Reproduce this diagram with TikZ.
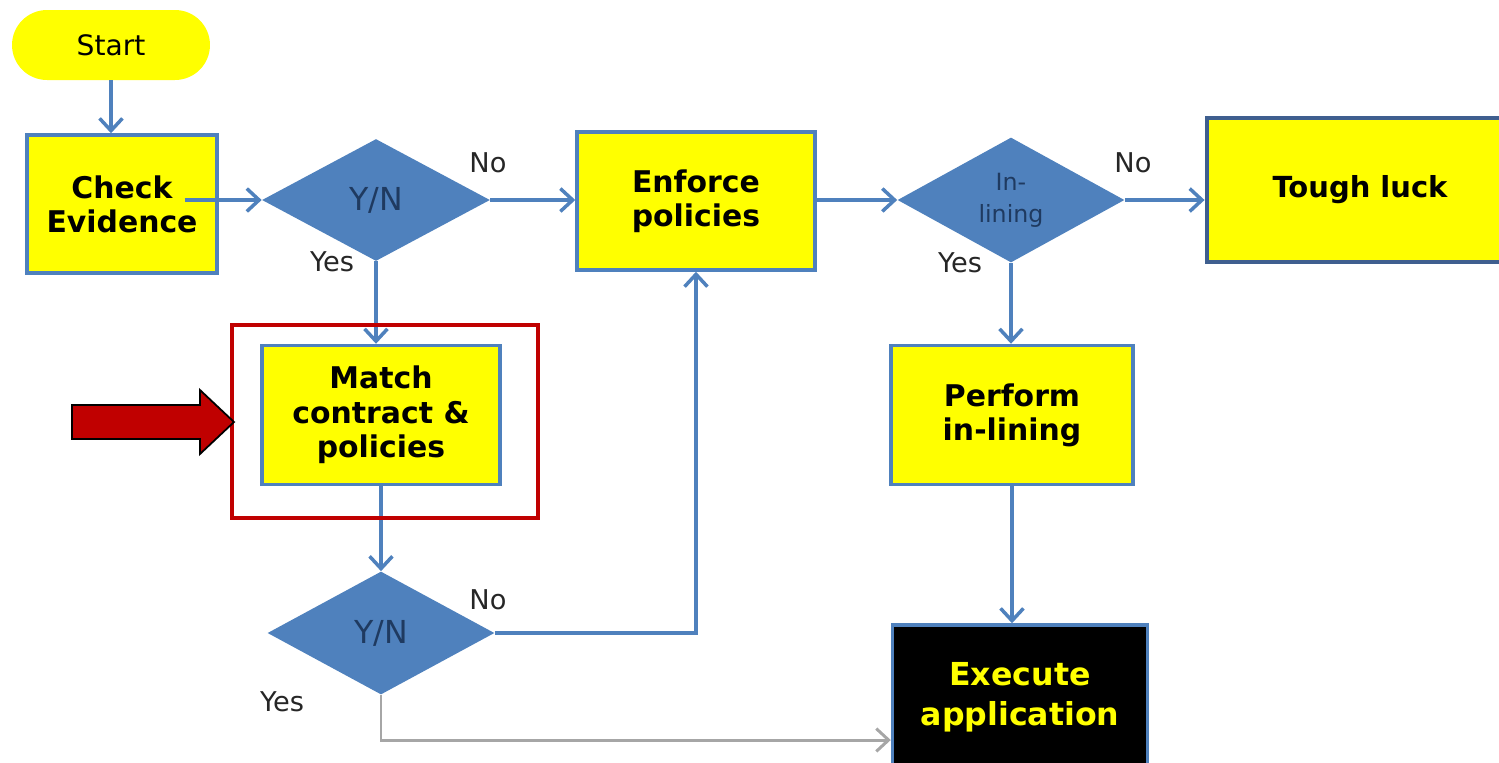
\documentclass[tikz,border=0pt]{standalone}
\usepackage{fontspec}
\setmainfont{DejaVu Sans}
\usetikzlibrary{shapes.geometric,arrows.meta}
\definecolor{fyellow}{HTML}{FFFF00}
\definecolor{fblue}{HTML}{4F81BD}
\definecolor{yntext}{HTML}{1F3A60}
\definecolor{fred}{HTML}{C00000}
\definecolor{fgray}{HTML}{A6A6A6}
\definecolor{tlborder}{HTML}{3F5F8F}
\begin{document}
\begin{tikzpicture}[x=0.02cm,y=-0.02cm,
  box/.style={draw=fblue, line width=2pt, fill=fyellow, align=center,
    font=\bfseries\fontsize{17}{19.5}\selectfont, inner sep=0pt},
  dec/.style={diamond, fill=fblue, inner sep=0pt, align=center, text=yntext},
  conn/.style={draw=fblue, line width=2pt,
    -{Straight Barb[length=7pt,width=13pt,line width=2pt]}},
  gconn/.style={draw=fgray, line width=1.7pt,
    -{Straight Barb[length=7pt,width=13pt,line width=1.7pt]}},
  lab/.style={font=\fontsize{15.5}{18}\selectfont, text=black!85}]
\useasboundingbox (0,0) rectangle (1499,762);

% nodes
\node[fill=fyellow, rounded corners=0.7cm, minimum width=3.96cm, minimum height=1.4cm,
  inner sep=0pt, font=\fontsize{16}{18}\selectfont] (start) at (111,45) {Start};
\node[box, minimum width=3.8cm, minimum height=2.76cm] (check) at (122,204) {Check\\Evidence};
\node[dec, minimum width=4.56cm, minimum height=2.44cm,
  font=\fontsize{18}{20}\selectfont] (d1) at (376,200) {Y/N};
\node[box, minimum width=4.76cm, minimum height=2.76cm] (enforce) at (696,201) {Enforce\\policies};
\node[dec, minimum width=4.54cm, minimum height=2.5cm,
  font=\fontsize{13.5}{18}\selectfont] (d2) at (1011,200) {In-\\lining};
\node[fill=fyellow, draw=tlborder, line width=2.8pt, minimum width=6.12cm, minimum height=2.88cm,
  inner sep=0pt, font=\bfseries\fontsize{16.5}{19}\selectfont] (tough) at (1360,190) {\raisebox{2pt}{Tough luck}};
\node[box, minimum width=4.76cm, minimum height=2.78cm] (match) at (381,415) {Match\\contract \&\\policies};
\node[dec, minimum width=4.54cm, minimum height=2.46cm,
  font=\fontsize{18}{20}\selectfont] (d3) at (381,633) {Y/N};
\node[box, minimum width=4.84cm, minimum height=2.78cm] (perform) at (1012,415) {Perform\\in-lining};
\node[box, fill=black, text=fyellow, minimum width=5.1cm, minimum height=2.88cm,
  font=\bfseries\fontsize{18}{22.7}\selectfont] (execute) at (1020,697) {Execute\\application};

\coordinate (gy) at (0,740);

% connectors
\draw[conn] (start.south) -- (start.south |- check.north);
\draw[conn] ([xshift=-0.68cm]check.east |- d1.west) -- (d1.west);
\draw[conn] (d1.east) -- (d1.east -| enforce.west);
\draw[conn] (enforce.east |- d2.west) -- (d2.west);
\draw[conn] (d2.east) -- (d2.east -| tough.west);
\draw[conn] (d1.south) -- (d1.south |- match.north);
\draw[conn] (match.south) -- (d3.north);
\draw[conn] (d3.east) -| (enforce.south);
\draw[conn] (d2.south) -- (d2.south |- perform.north);
\draw[conn] (perform.south) -- (perform.south |- execute.north);
\draw[gconn] (d3.south) -- (d3.south |- gy) -- (execute.west |- gy);

% highlight frame and pointer
\node[draw=fred, line width=2.3pt, minimum width=6.12cm, minimum height=3.86cm,
  inner sep=0pt] (focus) at (385,421.5) {};
\draw[fill=fred, draw=black, line width=1pt]
  (72,405) -- (200,405) -- (200,390) -- (234,422) -- (200,454) -- (200,439) -- (72,439) -- cycle;

% labels
\node[lab] (n1) at (488,163) {No};
\node[lab] (y1) at (332,262) {Yes};
\node[lab] (n2) at (1133,163) {No};
\node[lab] (y2) at (960,263) {Yes};
\node[lab] (n3) at (488,600) {No};
\node[lab] (y3) at (282,702) {Yes};
\end{tikzpicture}
\end{document}
